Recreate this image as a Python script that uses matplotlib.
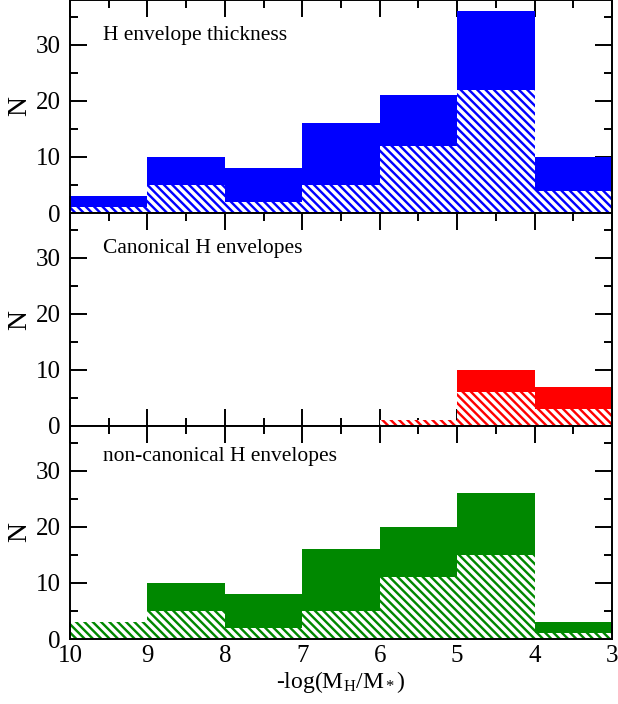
import matplotlib
matplotlib.use("Agg")
import matplotlib.pyplot as plt
import numpy as np
from matplotlib.ticker import MultipleLocator

plt.rcParams['font.family'] = ['Liberation Serif', 'DejaVu Serif']
plt.rcParams['mathtext.fontset'] = 'custom'
plt.rcParams['mathtext.rm'] = 'Liberation Serif'
plt.rcParams['mathtext.it'] = 'Liberation Serif:italic'
plt.rcParams['hatch.linewidth'] = 2.5

bin_edges = [10, 9, 8, 7, 6, 5, 4, 3]

all_total = [3, 10, 8, 16, 21, 36, 10]
all_hatched = [1, 5, 2, 5, 12, 22, 4]

canon_total = [0, 0, 0, 0, 1, 10, 7]
canon_hatched = [0, 0, 0, 0, 1, 6, 3]

noncanon_total = [3, 10, 8, 16, 20, 26, 3]
noncanon_hatched = [3, 5, 2, 5, 11, 15, 1]

panel_labels = ["H envelope thickness", "Canonical H envelopes", "non-canonical H envelopes"]
colors = ["#0000ff", "#ff0000", "#008800"]
totals = [all_total, canon_total, noncanon_total]
hatcheds = [all_hatched, canon_hatched, noncanon_hatched]
label_y = [0.81, 0.81, 0.836]

fig = plt.figure(figsize=(6.18, 7.04), dpi=100)
left = 70 / 618
width = (612 - 70) / 618
bottom0 = 65 / 704
h = (704 - 65) / 3 / 704

edges = np.array(bin_edges, dtype=float)
centers = (edges[:-1] + edges[1:]) / 2
widths = np.abs(np.diff(edges))

for i in range(3):
    ax = fig.add_axes([left, bottom0 + (2 - i) * h, width, h])
    c = colors[i]
    ax.bar(centers, totals[i], width=widths, color=c, linewidth=0, zorder=2)
    ax.bar(centers, hatcheds[i], width=widths, facecolor=c, edgecolor='white',
           hatch='\\\\\\\\', linewidth=0, zorder=3)
    ax.set_xlim(10, 3)
    ax.set_ylim(0, 38)
    ax.xaxis.set_major_locator(MultipleLocator(1))
    ax.xaxis.set_minor_locator(MultipleLocator(0.5))
    ax.yaxis.set_major_locator(MultipleLocator(10))
    ax.yaxis.set_minor_locator(MultipleLocator(5))
    ax.tick_params(which='both', direction='in', top=True, right=True, width=1.4)
    ax.tick_params(which='major', length=12, labelsize=18)
    ax.tick_params(which='minor', length=6)
    ax.tick_params(axis='y', which='major', pad=6.5)
    ax.tick_params(axis='x', which='major', pad=4)
    for s in ax.spines.values():
        s.set_linewidth(1.4)
        s.set_zorder(5)
    ax.set_ylabel("N", fontsize=20)
    ax.yaxis.set_label_coords(-0.07, 0.5)
    ax.text(0.061, label_y[i], panel_labels[i], transform=ax.transAxes,
            fontsize=15.5, ha='left', va='baseline')
    ax.set_yticks([0, 10, 20, 30])
    if i < 2:
        ax.tick_params(labelbottom=False)
    else:
        ax.set_xlabel(r"-log(M$_\mathrm{H}$/M$_*$)", fontsize=17, labelpad=2)

fig.savefig("out.png", dpi=100)
